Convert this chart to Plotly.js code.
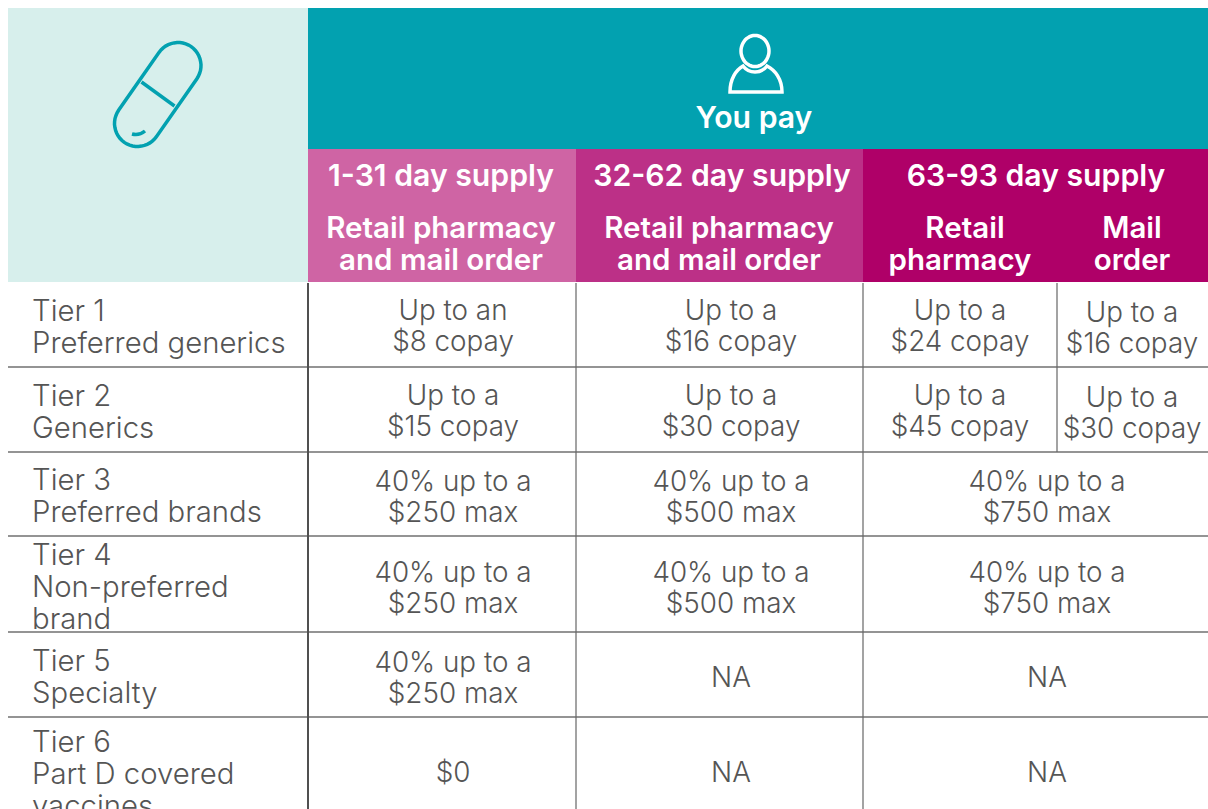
<!DOCTYPE html>
<html><head><meta charset="utf-8">
<script src="https://cdn.plot.ly/plotly-3.0.1.min.js"></script>
<style>html,body{margin:0;padding:0;background:#fff;overflow:hidden}</style>
</head><body><div id="chart" style="width:1208px;height:809px"></div>
<script>
// ---- table content ----
const tierLabels = ["Tier 1\nPreferred generics","Tier 2\nGenerics","Tier 3\nPreferred brands","Tier 4\nNon-preferred\nbrand","Tier 5\nSpecialty","Tier 6\nPart D covered\nvaccines"];
const supply1to31 = ["Up to an\n$8 copay","Up to a\n$15 copay","40% up to a\n$250 max","40% up to a\n$250 max","40% up to a\n$250 max","$0"];
const supply32to62 = ["Up to a\n$16 copay","Up to a\n$30 copay","40% up to a\n$500 max","40% up to a\n$500 max","NA","NA"];
const supply63to93Retail = ["Up to a\n$24 copay","Up to a\n$45 copay"];
const supply63to93Mail = ["Up to a\n$16 copay","Up to a\n$30 copay"];
const supply63to93Shared = ["40% up to a\n$750 max","40% up to a\n$750 max","NA","NA"];
const headerTop = "You pay";
const supplyHeads = ["1-31 day supply","32-62 day supply","63-93 day supply"];
const channelHeads = ["Retail pharmacy\nand mail order","Retail pharmacy\nand mail order","Retail","pharmacy","Mail\norder"];

// ---- layout constants ----
const STEP = 32, BODY = "#555555";
const rowLines = [367,452,536,632,717];
const labelY = [314,399,483,558,664,745];
const cellY = [313,398,484,575,665,775];
const singleY = {4:680,5:775};

function lines(strs, xs, ys, step){
  const x=[],y=[],t=[];
  strs.forEach((s,i)=>s.split("\n").forEach((l,j)=>{x.push(xs[i]);y.push(ys[i]+j*step);t.push(l);}));
  return {x,y,t};
}
function textTrace(d,pos,font){
  return {type:"scatter",mode:"text",x:d.x,y:d.y,text:d.t,textposition:pos,textfont:font,hoverinfo:"skip",showlegend:false,cliponaxis:false};
}
const labelFont={family:"Inter, sans-serif",size:29.3,color:BODY,weight:300};
const bodyFont={family:"Inter, sans-serif",size:27.8,color:BODY,weight:300};
const headFont={family:"Inter, sans-serif",size:29.5,color:"#ffffff",weight:600};
const supplyFont={family:"Inter, sans-serif",size:30.2,color:"#ffffff",weight:600};
const nRows=tierLabels.length;
const col=(v,n)=>Array(n).fill(v);
const data=[
  textTrace(lines(tierLabels,col(32,nRows),labelY,STEP),"middle right",labelFont),
  textTrace(lines(supply1to31,col(453,6),cellY,31),"middle center",bodyFont),
  textTrace(lines(supply32to62,col(731,6),cellY.map((y,i)=>singleY[i]||y),31),"middle center",bodyFont),
  textTrace(lines(supply63to93Retail,col(960,2),cellY.slice(0,2),31),"middle center",bodyFont),
  textTrace(lines(supply63to93Mail,col(1132,2),[315,400],31),"middle center",bodyFont),
  textTrace(lines(supply63to93Shared,col(1047,4),[484,575,680,775],31),"middle center",bodyFont),
  textTrace(lines([headerTop],[754],[120],0),"middle center",supplyFont),
  textTrace(lines(supplyHeads,[441,722,1036],[178,178,178],0),"middle center",supplyFont),
  textTrace(lines(channelHeads,[441,719,965,960,1132],[231,231,231,263,231],32),"middle center",headFont),
];

function rect(x0,y0,x1,y1,c){return {type:"rect",xref:"x",yref:"y",x0,y0,x1,y1,fillcolor:c,line:{width:0},layer:"below"};}
function ln(x0,y0,x1,y1,c,w){return {type:"line",xref:"x",yref:"y",x0,y0,x1,y1,line:{color:c,width:w},layer:"below"};}
function pth(p,c,w){return {type:"path",xref:"x",yref:"y",path:p,line:{color:c,width:w},fillcolor:"rgba(0,0,0,0)"};}
function capsule(ax,ay,bx,by,r){
  const a=Math.atan2(by-ay,bx-ax),pts=[];
  for(let i=0;i<=24;i++){const t=a+Math.PI/2+Math.PI*i/24;pts.push([ax+r*Math.cos(t),ay+r*Math.sin(t)]);}
  for(let i=0;i<=24;i++){const t=a-Math.PI/2+Math.PI*i/24;pts.push([bx+r*Math.cos(t),by+r*Math.sin(t)]);}
  return "M"+pts.map(p=>p[0].toFixed(1)+" "+p[1].toFixed(1)).join("L")+"Z";
}
function ellipse(cx,cy,rx,ry){
  const pts=[];for(let i=0;i<48;i++){const t=2*Math.PI*i/48;pts.push([cx+rx*Math.cos(t),cy+ry*Math.sin(t)]);}
  return "M"+pts.map(p=>p[0].toFixed(1)+" "+p[1].toFixed(1)).join("L")+"Z";
}
const TEAL="#02A1B0";
const shapes=[
  rect(8,8,308,282,"#D7EFEC"),
  rect(308,8,1208,149,TEAL),
  rect(308,149,576,282,"#CF64A4"),
  rect(576,149,863,282,"#BC3087"),
  rect(863,149,1208,282,"#AF0068"),
  ...rowLines.map(y=>ln(8,y,1208,y,"#707070",1.5)),
  ln(308,283,308,809,"#505050",2),
  ln(576,283,576,809,"#666666",1.2),
  ln(863,283,863,809,"#666666",1.2),
  ln(1057,283,1057,452,"#666666",1.2),
  pth(capsule(178,65.5,137.5,123.5,23),TEAL,3.5),
  pth("M141.5 82L174.5 106",TEAL,3.5),
  pth("M132 134Q139 136 145 131",TEAL,3.5),
  pth(ellipse(755,51,14,15.5),"#ffffff",3.5),
  pth("M730 92L782 92C782 79 775 70 767 66C761 74 749 74 743 66C736 70 730 79 730 92Z","#ffffff",3.5),
];
Plotly.newPlot("chart",data,{
  width:1208,height:809,margin:{l:0,r:0,t:0,b:0},
  paper_bgcolor:"#fff",plot_bgcolor:"#fff",showlegend:false,shapes,
  xaxis:{range:[0,1208],visible:false,fixedrange:true},
  yaxis:{range:[809,0],visible:false,fixedrange:true}
},{displayModeBar:false,staticPlot:true});
</script></body></html>
